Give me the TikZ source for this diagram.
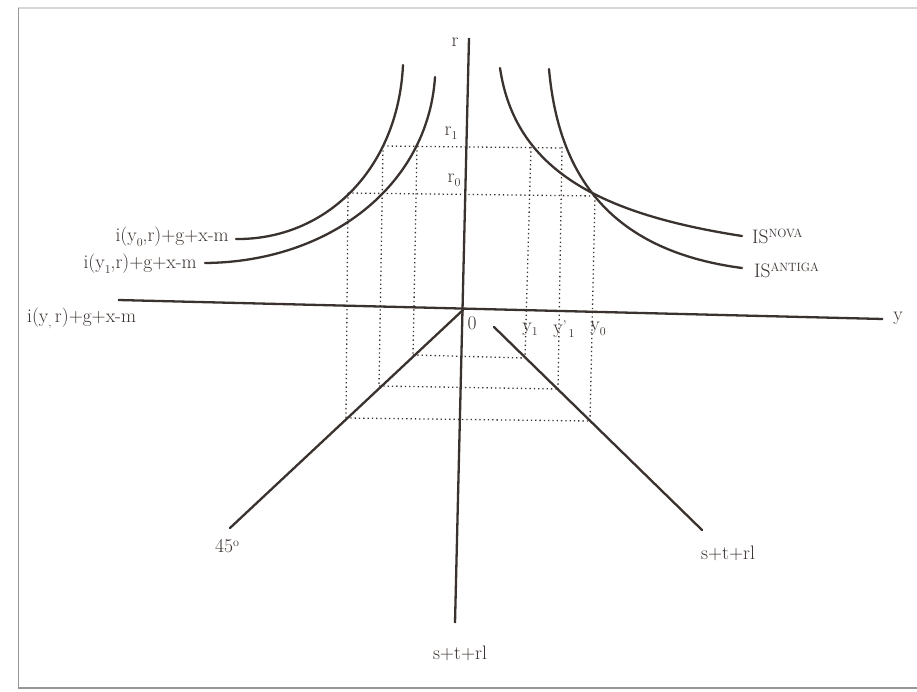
\documentclass[tikz,border=0pt]{standalone}
\usepackage{tikz}
\definecolor{ink}{RGB}{58,50,46}
\definecolor{edgegray}{RGB}{150,150,150}
\definecolor{edgelight}{RGB}{215,215,215}
\newcommand{\lsub}[1]{\raisebox{-0.5ex}{\fontsize{12}{12}\selectfont #1}}
\newcommand{\lsup}[1]{\raisebox{0.72ex}{\fontsize{12}{12}\selectfont #1}}
\begin{document}
\begin{tikzpicture}[x=1pt,y=-1pt,
  axis/.style={line width=2.3pt, draw=ink},
  curve/.style={line width=2.3pt, draw=ink, line cap=round},
  guide/.style={draw=ink, line width=1.3pt, dash pattern=on 1.3pt off 3pt},
  lbl/.style={inner sep=0pt, text=ink, font=\fontsize{19.5}{22}\selectfont}]
\useasboundingbox (0,0) rectangle (917,692);
\fill[white] (0,0) rectangle (917,692);
% page edges of the scan
\coordinate (fa) at (917,8);
\coordinate (fb) at (18,8);
\coordinate (fc) at (18,688);
\coordinate (fd) at (917,688);
\draw[edgelight, line width=1.2pt] (fa) -- (fb);
\draw[edgegray, line width=1pt] (fb) -- (fc);
\draw[edgegray, line width=1.2pt] (fc) -- (fd);

% axes and lines
\coordinate (O) at (463,310);
\coordinate (rT) at (469,38);
\coordinate (rB) at (455,623);
\coordinate (yL) at (118,300);
\coordinate (yR) at (883,319);
\coordinate (d45) at (230,528);
\coordinate (sS) at (494,327);
\coordinate (sE) at (702,530);
\draw[axis] (rT) -- (rB);
\draw[axis] (yL) -- (yR);
\draw[curve] (O) -- (d45);
\draw[curve] (sS) -- (sE);

% guide points
\coordinate (a1) at (383,146); \coordinate (a2) at (563,148);
\coordinate (b1) at (348,193); \coordinate (b2) at (595,196);
\coordinate (c1) at (417,146); \coordinate (c2) at (531,147);
\coordinate (e1) at (562,147);
\coordinate (p1) at (413,355); \coordinate (p2) at (525,358);
\coordinate (q1) at (379,386); \coordinate (q2) at (558,389);
\coordinate (s1) at (346,418); \coordinate (s2) at (590,421);

\draw[guide] (a1) -- (a2);
\draw[guide] (b1) -- (b2);
\draw[guide] (b1) -- (s1);
\draw[guide] (a1) -- (q1);
\draw[guide] (c1) -- (p1);
\draw[guide] (c2) -- (p2);
\draw[guide] (e1) -- (q2);
\draw[guide] (b2) -- (s2);
\draw[guide] (p1) -- (p2);
\draw[guide] (q1) -- (q2);
\draw[guide] (s1) -- (s2);

% curves
\coordinate (L0s) at (403,65);  \coordinate (L0e) at (236,239);
\coordinate (L1s) at (435,77);  \coordinate (L1e) at (205,263);
\coordinate (NVs) at (500,68);  \coordinate (NVe) at (742,236);
\coordinate (ANs) at (549,69);  \coordinate (ANe) at (742,268);
\draw[curve] (L0s) .. controls (398,170) and (325,240) .. (L0e);
\draw[curve] (L1s) .. controls (428,185) and (330,262) .. (L1e);
\draw[curve] (NVs) .. controls (515,170) and (600,214) .. (NVe);
\draw[curve] (ANs) .. controls (558,170) and (605,250) .. (ANe);

% labels
\node[lbl] (lr) at (455,42) {r};
\node[lbl] (lr1) at (451,133) {r\lsub{1}};
\node[lbl] (lr0) at (454,180) {r\lsub{0}};
\node[lbl] (lzero) at (472,323) {0};
\node[lbl] (ly1) at (530,329) {y\lsub{1}};
\node[lbl] (lyp1) at (564,329) {y\raisebox{0.3ex}{\fontsize{14}{14}\selectfont ’}\lsub{\,1}};
\node[lbl] (ly0) at (598,329) {y\lsub{0}};
\node[lbl] (ly) at (898,318) {y};
\node[lbl, anchor=west] (lnova) at (752,236) {IS\lsup{NOVA}};
\node[lbl, anchor=west] (lantiga) at (754,270) {IS\lsup{ANTIGA}};
\node[lbl, anchor=east] (li0) at (229,237) {i(y\lsub{0},r)+g+x-m};
\node[lbl, anchor=east] (li1) at (197,264) {i(y\lsub{1},r)+g+x-m};
\node[lbl, anchor=west] (li) at (27,318) {i(y\lsub{,}\,r)+g+x-m};
\node[lbl] (l45) at (227,546) {45\lsup{o}};
\node[lbl] (lstr) at (728,553) {s+t+rl};
\node[lbl] (lstb) at (460,653) {s+t+rl};
\end{tikzpicture}
\end{document}
